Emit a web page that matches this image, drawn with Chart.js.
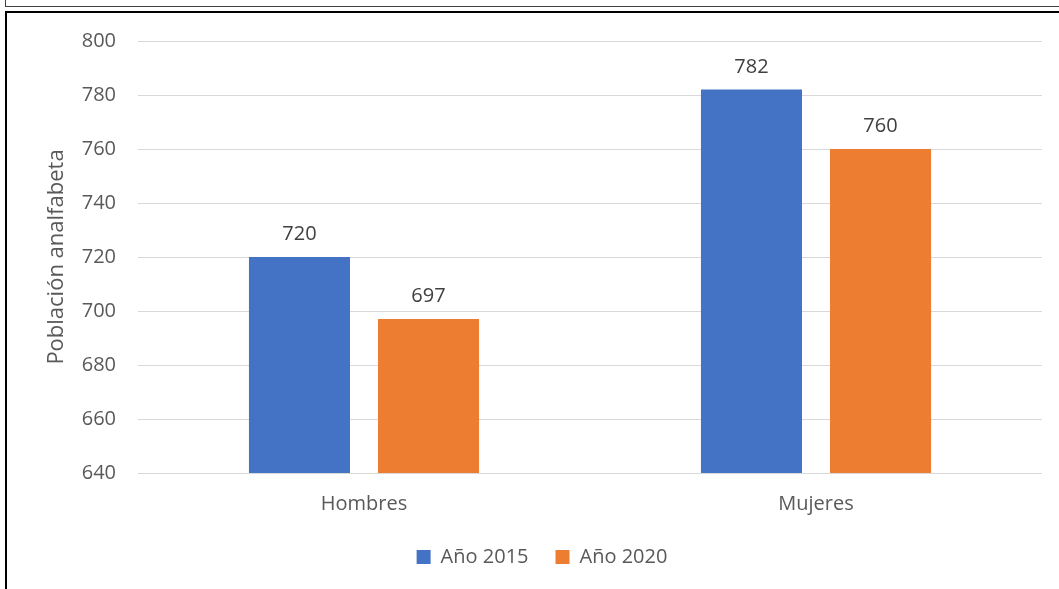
<!DOCTYPE html>
<html lang="es">
<head>
<meta charset="UTF-8">
<title>Población analfabeta</title>
<script src="https://cdn.jsdelivr.net/npm/chart.js"></script>
<style>
  html, body { margin: 0; padding: 0; background: #fff; }
  body { width: 1059px; height: 589px; position: relative; overflow: hidden; }
  .caja-arriba { position: absolute; left: 5px; top: -10px; width: 1060px; height: 15px; border: 1px solid #404040; }
  .caja-grafico { position: absolute; left: 5px; top: 11px; width: 1060px; height: 600px; border-top: 2px solid #000; border-left: 2px solid #000; }
  #grafico { position: absolute; left: 0; top: 0; }
</style>
</head>
<body>
<div class="caja-arriba"></div>
<div class="caja-grafico"></div>
<canvas id="grafico" width="1059" height="589"></canvas>
<script>
  // datos
  const categorias = ['Hombres', 'Mujeres'];
  const anio2015 = [720, 782];
  const anio2020 = [697, 760];
  const series = ['Año 2015', 'Año 2020'];
  const ejeY = { min: 640, max: 800, paso: 20 };

  const fuente = '"Open Sans", "Noto Sans", sans-serif';

  // etiquetas encima de cada barra
  const etiquetas = {
    id: 'etiquetas',
    afterDatasetsDraw(chart) {
      const ctx = chart.ctx;
      ctx.save();
      ctx.font = '20px ' + fuente;
      ctx.fillStyle = '#404040';
      ctx.textAlign = 'center';
      ctx.textBaseline = 'alphabetic';
      chart.data.datasets.forEach((ds, i) => {
        chart.getDatasetMeta(i).data.forEach((bar, j) => {
          ctx.fillText(ds.data[j], bar.x, bar.y - 17);
        });
      });
      ctx.restore();
    }
  };

  new Chart(document.getElementById('grafico'), {
    type: 'bar',
    data: {
      labels: categorias,
      datasets: [
        { label: series[0], data: anio2015, backgroundColor: '#4472C4' },
        { label: series[1], data: anio2020, backgroundColor: '#ED7D31' }
      ]
    },
    options: {
      responsive: false,
      animation: false,
      layout: { padding: { top: 41, right: 17, left: 42, bottom: 12 } },
      datasets: { bar: { categoryPercentage: 0.571, barPercentage: 0.783 } },
      scales: {
        x: {
          grid: { display: false },
          border: { display: false },
          ticks: { color: '#595959', font: { family: fuente, size: 20 }, padding: 11 },
          afterFit(scale) { scale.height = 47; }
        },
        y: {
          min: ejeY.min,
          max: ejeY.max,
          ticks: { stepSize: ejeY.paso, color: '#595959', font: { family: fuente, size: 20 }, padding: 22 },
          grid: { color: '#d9d9d9', lineWidth: 1, drawTicks: false },
          border: { display: false },
          title: {
            display: true,
            text: 'Población analfabeta',
            color: '#595959',
            font: { family: fuente, size: 22 },
            padding: { top: 2, bottom: 0 }
          },
          afterFit(scale) { scale.width = 96; }
        }
      },
      plugins: {
        legend: {
          position: 'bottom',
          labels: {
            color: '#595959',
            font: { family: fuente, size: 20 },
            boxWidth: 14,
            boxHeight: 14,
            padding: 27
          }
        },
        tooltip: { enabled: false }
      }
    },
    plugins: [etiquetas]
  });
</script>
</body>
</html>
